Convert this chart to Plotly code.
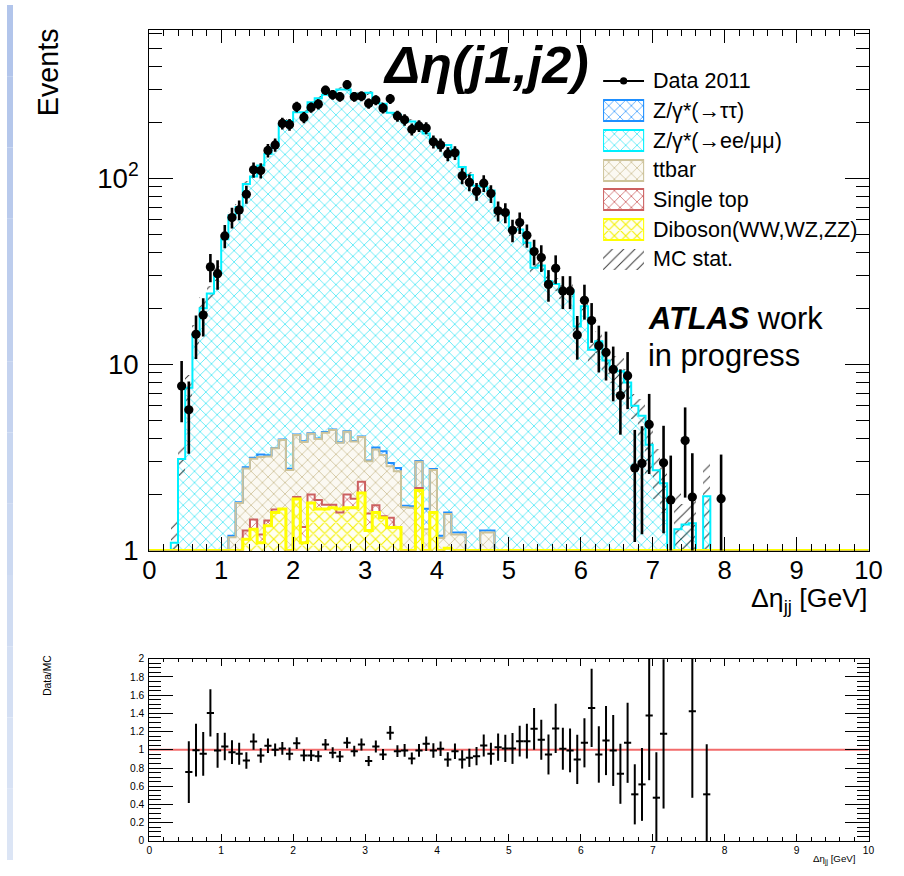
import numpy as np
import plotly.graph_objects as go

W, H = 904, 876
FONT = "Liberation Sans, Arial, sans-serif"

# The photographed page shows the figure shifted by the page margin and slightly reduced;
# positions below are given in target-picture pixels and mapped through this.
OX, OY, S = 8.0, 8.0, 0.975
K = 1.0 / S  # size compensation


def fx(p):
    return ((p - OX) / S) / W


def fy(p):
    return 1 - ((p - OY) / S) / H


# ---------------- values ----------------
bin_centres = [round(0.35 + 0.1 * i, 2) for i in range(77)]  # 0.35 ... 7.95

data_2011 = [
    None, 7.65, 5.7, 14.5, 18.4, 33.4, 30.7, 49, 61.5, 67.6,
    82, 111, 110, 141, 151, 197, 194, 242, 212, 240,
    250, 297, 281, 274, 318, 274, 276, 252, 263, 238,
    267, 216, 206, 183, 191, 186, 157, 151, 135, 137,
    103, 95, 85, 94, 82.7, 66.8, 65.4, 52.5, 57.8, 49.4,
    40.4, 37.5, 26.9, 32.8, 24.8, 24.8, 14.4, 22.1, 17.2, 12.6,
    11.6, 9.4, 6.8, 8.7, 2.78, 2.94, 4.76, None, 2.96, 1.87,
    None, 3.9, 1.94, None, None, None, 1.9,
]

mc_total = [
    1.1, 3.1, 7.5, 14.5, 20, 24, 31, 47, 63, 70,
    93, 102, 117, 135, 150, 194, 203, 226, 226, 256,
    269, 281, 290, 300, 300, 284, 275, 288, 255, 251,
    225, 219, 207, 202, 192, 174, 158, 149, 151, 139,
    115, 104, 91, 90, 86, 65, 64, 52, 53, 45,
    33, 34, 28, 27, 24.5, 25, 16, 20.5, 12, 13.3,
    10.5, 9.5, 9.2, 8.0, 6.0, 5.3, 3.7, 2.7, 2.3, 0,
    1.3, 1.38, 1.4, 0, 1.96, 0, 0,
]

mc_stat_err = [
    0.35, 0.6, 1.3, 1.8, 3.0, 2.5, 2.8, 2.2, 2.6, 2.9,
    3.3, 3.6, 4.0, 4.4, 4.8, 5.6, 5.9, 6.3, 6.3, 6.9,
    7.1, 7.3, 7.5, 7.7, 7.7, 7.4, 7.2, 7.4, 7.0, 6.9,
    6.5, 6.4, 6.2, 6.1, 5.9, 5.6, 5.3, 5.1, 5.2, 4.9,
    4.4, 4.1, 3.8, 3.8, 3.7, 3.2, 3.2, 2.8, 2.9, 2.6,
    2.3, 2.4, 2.2, 2.2, 2.1, 2.1, 1.8, 2.0, 1.7, 1.8,
    1.6, 1.6, 1.6, 1.5, 0.9, 1.2, 1.2, 0.8, 0.7, 0,
    0.8, 0.4, 0.6, 0, 1.0, 0, 0,
]

ratio_vals = [
    None, None, 0.755, 0.996, 0.956, 1.405, 0.993, 1.036, 0.974, 0.956,
    0.883, 1.09, 0.938, 1.044, 1.0, 1.015, 0.956, 1.073, 0.938, 0.938,
    0.93, 1.058, 0.967, 0.927, 1.077, 0.985, 1.058, 0.876, 1.036, 0.949,
    1.186, 0.985, 0.993, 0.905, 0.993, 1.066, 0.993, 1.011, 0.894, 0.985,
    0.894, 0.912, 0.93, 1.047, 0.956, 1.029, 1.015, 1.015, 1.095, 1.095,
    1.23, 1.11, 0.949, 1.234, 1.011, 0.993, 0.894, 1.077, 1.46, 0.949,
    1.102, 0.993, 0.737, 1.077, 0.511, 0.62, 1.376, 0.474, 1.175, None,
    None, None, 1.423, None, 0.511, None, None,
]

ratio_errs = [
    0, 0, 0.34, 0.29, 0.24, 0.26, 0.19, 0.15, 0.13, 0.12,
    0.09, 0.09, 0.08, 0.08, 0.07, 0.07, 0.07, 0.065, 0.065, 0.06,
    0.06, 0.06, 0.06, 0.06, 0.06, 0.06, 0.065, 0.055, 0.065, 0.06,
    0.075, 0.065, 0.07, 0.065, 0.07, 0.08, 0.08, 0.08, 0.08, 0.085,
    0.1, 0.1, 0.1, 0.12, 0.12, 0.15, 0.15, 0.17, 0.17, 0.19,
    0.23, 0.22, 0.22, 0.27, 0.23, 0.24, 0.27, 0.27, 0.43, 0.31,
    0.38, 0.39, 0.33, 0.44, 0.33, 0.4, 0.71, 0.5, 0.82, 0,
    0, 0, 0.95, 0, 0.55, 0, 0,
]

bg_centres = [round(1.15 + 0.1 * i, 2) for i in range(37)]  # 1.15 ... 4.75

# cumulative heights of the stack (each includes the processes below it)
stack_ztautau = [
    1.2, 1.82, 2.8, 3.15, 3.28, 3.25, 3.56, 3.95, 2.75, 4.2,
    3.86, 4.27, 4.0, 4.33, 4.47, 3.82, 4.38, 3.88, 4.1, 3.05,
    3.58, 3.42, 2.95, 2.78, 1.74, 1.73, 3.03, 1.68, 2.74, 1.2,
    1.6, 1.25, 1.25, 0, 0, 1.28, 1.28,
]
stack_ttbar = [
    1.18, 1.8, 2.76, 3.11, 3.18, 3.2, 3.54, 3.92, 2.71, 4.17,
    3.83, 4.24, 3.97, 4.3, 4.44, 3.79, 4.35, 3.85, 4.07, 3.02,
    3.49, 3.26, 2.84, 2.67, 1.71, 1.7, 3.0, 1.3, 2.71, 1.17,
    1.57, 1.22, 1.22, 0, 0, 1.25, 1.25,
]
stack_singletop = [
    0, 0, 1.28, 1.47, 1.22, 1.45, 1.66, 1.67, 0, 1.94,
    1.34, 2.0, 1.87, 1.76, 1.76, 1.6, 2.0, 1.9, 2.34, 1.58,
    1.75, 1.53, 1.5, 1.33, 0, 0, 2.17, 0, 1.6, 0,
    1.03, 0, 0, 0, 0, 0, 0,
]
stack_diboson = [
    0, 0, 1.15, 1.3, 1.1, 1.36, 1.6, 1.67, 0, 1.89,
    1.1, 1.8, 1.67, 1.67, 1.7, 1.67, 1.7, 1.7, 2.04, 1.28,
    1.6, 1.5, 1.33, 1.33, 0, 0, 2.1, 0, 1.6, 0,
    1.03, 0, 0, 0, 0, 0, 0,
]

x_ticks = list(range(0, 11))
ratio_ticks = [0, 0.2, 0.4, 0.6, 0.8, 1, 1.2, 1.4, 1.6, 1.8, 2]
ratio_ticktext = ["0", "0.2", "0.4", "0.6", "0.8", "1", "1.2", "1.4", "1.6", "1.8", "2"]

legend_labels = ["Data 2011", "Z/γ*(→ττ)", "Z/γ*(→ee/μμ)", "ttbar",
                 "Single top", "Diboson(WW,WZ,ZZ)", "MC stat."]

# ---------------- styles ----------------
C_ZLL, C_ZTT, C_TT, C_ST, C_DB = "#00f0ff", "#1e8fff", "#cdc39a", "#cc6060", "#ffff00"
PAT = {
    "zll": dict(shape="x", fgcolor="#3fe6f5", bgcolor="white", size=8, solidity=0.18),
    "ztt": dict(shape="x", fgcolor="#3399ff", bgcolor="white", size=8, solidity=0.18),
    "tt": dict(shape="x", fgcolor="#cfc49b", bgcolor="#fbf9f2", size=8, solidity=0.2),
    "st": dict(shape="x", fgcolor="#d06a6a", bgcolor="white", size=8, solidity=0.2),
    "db": dict(shape="x", fgcolor="#f4f000", bgcolor="#fffff0", size=8, solidity=0.25),
}


def bar_vals(v):
    return [x if (x is not None and x > 0) else None for x in v]


def step_xy(centres, vals):
    edges = [round(0.1 * i, 2) for i in range(101)]
    full = np.zeros(100)
    for c, v in zip(centres, vals):
        if v:
            full[int(round((c - 0.05) / 0.1))] = v
    y = np.maximum(full, 1.0)
    return edges, list(y) + [y[-1]]


fig = go.Figure()


def add_hist(centres, vals, pat, line_color, lw=2):
    fig.add_trace(go.Bar(x=centres, y=bar_vals(vals), width=0.1,
                         marker=dict(color=pat["fgcolor"], pattern=dict(fillmode="replace", **pat),
                                     line=dict(width=0)),
                         xaxis="x", yaxis="y", showlegend=False, hoverinfo="skip"))
    ex, ey = step_xy(centres, vals)
    fig.add_trace(go.Scatter(x=ex, y=ey, mode="lines", line=dict(color=line_color, width=lw, shape="hv"),
                             xaxis="x", yaxis="y", showlegend=False, hoverinfo="skip", cliponaxis=False))


add_hist(bin_centres, mc_total, PAT["zll"], C_ZLL)
add_hist(bg_centres, stack_ztautau, PAT["ztt"], C_ZTT)
add_hist(bg_centres, stack_ttbar, PAT["tt"], C_TT)
add_hist(bg_centres, stack_singletop, PAT["st"], C_ST)
add_hist(bg_centres, stack_diboson, PAT["db"], C_DB, lw=3)

# MC stat band
band_x, band_base, band_h = [], [], []
for c, t, e in zip(bin_centres, mc_total, mc_stat_err):
    if t > 0 and e > 0:
        band_x.append(c)
        band_base.append(max(t - e, 0.5))
        band_h.append(t + e - max(t - e, 0.5))
fig.add_trace(go.Bar(x=band_x, y=band_h, base=band_base, width=0.1,
                     marker=dict(color="#333333", line=dict(width=0),
                                 pattern=dict(shape="/", fillmode="replace", fgcolor="#333333",
                                              bgcolor="rgba(0,0,0,0)", size=8, solidity=0.12)),
                     xaxis="x", yaxis="y", showlegend=False, hoverinfo="skip"))

# data points
dx = [c for c, d in zip(bin_centres, data_2011) if d is not None]
dy = [d for d in data_2011 if d is not None]
derr = list(np.sqrt(dy))
fig.add_trace(go.Scatter(x=dx, y=dy, mode="markers",
                         marker=dict(color="black", size=9 * K, symbol="circle"),
                         error_y=dict(type="data", array=derr, arrayminus=derr, color="black",
                                      thickness=2.6, width=0),
                         xaxis="x", yaxis="y", showlegend=False, hoverinfo="skip"))

# ratio panel
rx = [c for c, r in zip(bin_centres, ratio_vals) if r is not None]
ry = [r for r in ratio_vals if r is not None]
re_ = [e for r, e in zip(ratio_vals, ratio_errs) if r is not None]
fig.add_trace(go.Scatter(x=rx, y=ry, mode="markers", marker=dict(color="black", size=2),
                         error_y=dict(type="data", array=re_, color="black", thickness=2, width=0),
                         error_x=dict(type="constant", value=0.05, color="black", thickness=2, width=0),
                         xaxis="x2", yaxis="y2", showlegend=False, hoverinfo="skip"))

# legend swatches (own tiny axes)
sw = [None, ("ztt", C_ZTT), ("zll", C_ZLL), ("tt", C_TT), ("st", C_ST), ("db", C_DB)]
for row, item in enumerate(sw):
    if item is None:
        continue
    key, col = item
    fig.add_trace(go.Bar(y=[row], x=[1], base=0, width=0.7, orientation="h",
                         marker=dict(color=PAT[key]["fgcolor"], line=dict(color=col, width=2),
                                     pattern=dict(fillmode="replace", **PAT[key])),
                         xaxis="x3", yaxis="y3", showlegend=False, hoverinfo="skip"))
fig.add_trace(go.Bar(y=[6], x=[1], base=0, width=0.7, orientation="h",
                     marker=dict(color="#333333", line=dict(width=0),
                                 pattern=dict(shape="/", fillmode="replace", fgcolor="#333333",
                                              bgcolor="rgba(0,0,0,0)", size=8, solidity=0.12)),
                     xaxis="x3", yaxis="y3", showlegend=False, hoverinfo="skip"))
fig.add_trace(go.Scatter(x=[0, 0.5, 1], y=[0, 0, 0], mode="lines",
                         line=dict(color="black", width=2), xaxis="x3", yaxis="y3",
                         showlegend=False, hoverinfo="skip"))
fig.add_trace(go.Scatter(x=[0.5], y=[0], mode="markers", marker=dict(color="black", size=7 * K),
                         xaxis="x3", yaxis="y3", showlegend=False, hoverinfo="skip"))

XD = [fx(150), fx(868)]
axis_common = dict(showline=True, linecolor="black", linewidth=1, mirror="ticks",
                   ticks="inside", tickcolor="black", showgrid=False, zeroline=False)

fig.update_layout(
    width=W, height=H, margin=dict(l=0, r=0, t=0, b=0),
    paper_bgcolor="white", plot_bgcolor="white",
    barmode="overlay", bargap=0, showlegend=False,
    font=dict(family=FONT, color="black"),
    xaxis=dict(domain=XD, range=[0, 10], anchor="y", tickmode="array", tickvals=x_ticks,
               ticklen=13 * K, tickfont=dict(size=25 * K, family=FONT), ticklabelstandoff=-3,
               minor=dict(dtick=0.2, ticks="inside", ticklen=6 * K, tickcolor="black"),
               **axis_common),
    yaxis=dict(domain=[fy(553), fy(33)], type="log", range=[0, 2.796], anchor="x",
               tickmode="array", tickvals=[1, 10, 100], ticktext=["1", "10", "10<sup>2</sup>"],
               ticklen=23 * K, tickfont=dict(size=27 * K, family=FONT), ticklabelstandoff=4,
               minor=dict(tickmode="array",
                          tickvals=[2, 3, 4, 5, 6, 7, 8, 9, 20, 30, 40, 50, 60, 70, 80, 90,
                                    200, 300, 400, 500, 600],
                          ticks="inside", ticklen=12 * K, tickcolor="black"),
               **axis_common),
    xaxis2=dict(domain=XD, range=[0, 10], anchor="y2", tickmode="array", tickvals=x_ticks,
                ticklen=7 * K, tickfont=dict(size=10 * K, family=FONT), ticklabelstandoff=0,
                minor=dict(dtick=0.2, ticks="inside", ticklen=3.5 * K, tickcolor="black"),
                **axis_common),
    yaxis2=dict(domain=[fy(843), fy(661)], range=[0, 2], anchor="x2",
                tickmode="array", tickvals=ratio_ticks, ticktext=ratio_ticktext,
                ticklen=23 * K, tickfont=dict(size=10 * K, family=FONT), ticklabelstandoff=2,
                minor=dict(dtick=0.05, ticks="inside", ticklen=11 * K, tickcolor="black"),
                **axis_common),
    xaxis3=dict(domain=[fx(603), fx(644)], range=[0, 1], anchor="y3", visible=False, fixedrange=True),
    yaxis3=dict(domain=[fy(277), fy(69)], range=[6.5, -0.5], anchor="x3", visible=False, fixedrange=True),
)

shapes = []
# slide background strip on the left
n_seg = 12
for i in range(n_seg):
    t = i / (n_seg - 1)
    r = int(0xb2 + (0xdc - 0xb2) * t)
    g = int(0xc5 + (0xe5 - 0xc5) * t)
    b = int(0xeb + (0xf5 - 0xeb) * t)
    shapes.append(dict(type="rect", xref="paper", yref="paper", x0=0, x1=fx(14),
                       y0=1 - (i + 1) / n_seg, y1=1 - i / n_seg,
                       fillcolor=f"rgb({r},{g},{b})", line=dict(width=0), layer="below"))
# ratio reference line
shapes.append(dict(type="line", xref="x2", yref="y2", x0=0, x1=10, y0=1, y1=1,
                   line=dict(color="#f26b6b", width=2), layer="below"))
fig.update_layout(shapes=shapes)

ann = []
# title
ann.append(dict(text="<b><i>Δη(j1,j2)</i></b>", xref="paper", yref="paper", x=fx(486), y=fy(68),
                xanchor="center", yanchor="middle", showarrow=False,
                font=dict(size=51 * K, family=FONT, color="black")))
# legend labels
for i, lab in enumerate(legend_labels):
    ann.append(dict(text=lab, xref="paper", yref="paper", x=fx(651), y=fy(84 + 29.7 * i),
                    xanchor="left", yanchor="middle", showarrow=False,
                    font=dict(size=21 * K, family=FONT, color="black")))
# ATLAS label
ann.append(dict(text="<b><i>ATLAS</i></b> work", xref="paper", yref="paper", x=fx(646), y=fy(321),
                xanchor="left", yanchor="middle", showarrow=False, font=dict(size=30 * K, family=FONT)))
ann.append(dict(text="in progress", xref="paper", yref="paper", x=fx(646), y=fy(358),
                xanchor="left", yanchor="middle", showarrow=False, font=dict(size=30 * K, family=FONT)))
# axis titles
ann.append(dict(text="Events", xref="paper", yref="paper", x=fx(49), y=fy(75),
                xanchor="center", yanchor="middle", textangle=-90, showarrow=False,
                font=dict(size=28 * K, family=FONT)))
ann.append(dict(text="Δη<sub>jj</sub> [GeV]", xref="paper", yref="paper", x=fx(869), y=fy(602),
                xanchor="right", yanchor="middle", showarrow=False, font=dict(size=26 * K, family=FONT)))
ann.append(dict(text="Data/MC", xref="paper", yref="paper", x=fx(49), y=fy(678),
                xanchor="center", yanchor="middle", textangle=-90, showarrow=False,
                font=dict(size=10 * K, family=FONT)))
ann.append(dict(text="Δη<sub>jj</sub> [GeV]", xref="paper", yref="paper", x=fx(857), y=fy(862),
                xanchor="right", yanchor="middle", showarrow=False, font=dict(size=9.5 * K, family=FONT)))
fig.update_layout(annotations=ann)

fig.write_html("out.html")
